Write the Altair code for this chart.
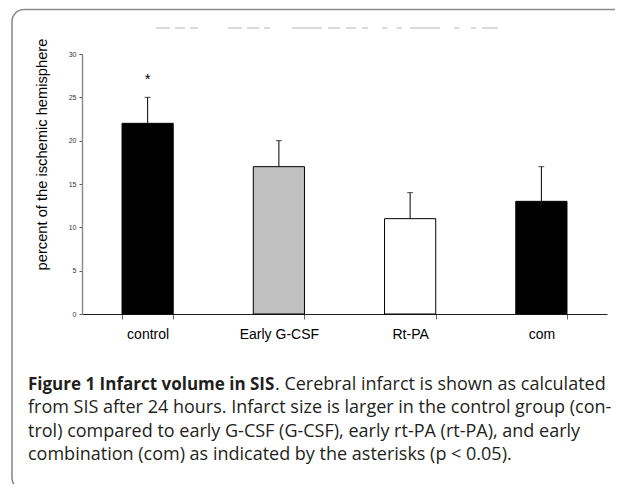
import altair as alt
import pandas as pd

# ---- data ----
groups = ["control", "Early G-CSF", "Rt-PA", "com"]
means = [22, 17, 11, 13]
upper_err = [25, 20, 14, 17]
y_ticks = [0, 5, 10, 15, 20, 25, 30]
star_groups = ["control"]
star_values = [26.5]

caption_bold = "Figure 1 Infarct volume in SIS"
caption_rest = ". Cerebral infarct is shown as calculated"
caption_lines = [
    "from SIS after 24 hours. Infarct size is larger in the control group (con-",
    "trol) compared to early G-CSF (G-CSF), early rt-PA (rt-PA), and early",
    "combination (com) as indicated by the asterisks (p < 0.05).",
]

# ---- styles ----
bar_colors = ["#000000", "#c0c0c0", "#ffffff", "#000000"]
AX_FONT = "Liberation Sans"
CAP_FONT = "Open Sans"
CAP_SIZE = 18

df = pd.DataFrame({"group": groups, "mean": means, "upper": upper_err})
star_df = pd.DataFrame({"group": star_groups, "value": star_values})

y_axis = alt.Axis(
    values=y_ticks, title="percent of the ischemic hemisphere",
    titleFont=AX_FONT, titleFontSize=14.7, titleFontWeight="normal", titleColor="black",
    titleAngle=270, titleAlign="center", titleBaseline="middle", titleX=-40, titleY=100,
    labelFont=AX_FONT, labelFontSize=7, labelColor="#333", labelPadding=3,
    tickSize=3, tickColor="#555", domainColor="#888", domainWidth=1.4, grid=False,
)
x_enc = alt.X(
    "group:N", sort=groups,
    scale=alt.Scale(domain=groups, paddingInner=0.61, paddingOuter=0.305),
    axis=alt.Axis(
        title=None, labelAngle=0, labelFont=AX_FONT, labelFontSize=14, labelColor="black",
        labelPadding=8, tickBand="extent", tickSize=5, tickColor="#666",
        domainColor="#222", domainWidth=1.2, grid=False,
    ),
)
y_scale = alt.Scale(domain=[0, 30], nice=False)

base = alt.Chart(df)
bars = base.mark_bar(stroke="black", strokeWidth=1).encode(
    x=x_enc,
    y=alt.Y("mean:Q", scale=y_scale, axis=y_axis),
    color=alt.Color("group:N", scale=alt.Scale(domain=groups, range=bar_colors), legend=None),
)
err = base.mark_rule(color="black", strokeWidth=1).encode(
    x=x_enc,
    y=alt.Y("mean:Q", scale=y_scale, axis=y_axis),
    y2="upper:Q",
)
caps = base.mark_tick(color="black", thickness=1, size=6).encode(
    x=x_enc,
    y=alt.Y("upper:Q", scale=y_scale, axis=y_axis),
)
star = alt.Chart(star_df).mark_text(
    text="*", font=AX_FONT, fontSize=15, baseline="alphabetic", color="black"
).encode(
    x=x_enc,
    y=alt.Y("value:Q", scale=y_scale, axis=y_axis),
)

one = pd.DataFrame({"k": [0]})
frame = alt.Chart(one).mark_rect(
    fill="white", fillOpacity=0, stroke="#8a8a8a", strokeWidth=1.6, cornerRadius=12
).encode(
    x=alt.value(-70), x2=alt.value(560), y=alt.value(-44.5), y2=alt.value(436)
)
dashes = alt.Chart(one).mark_rule(
    color="#d0d0d0", strokeWidth=1.5,
    strokeDash=[14, 5, 10, 5, 8, 30, 14, 5, 12, 5, 6, 22, 30, 6, 12, 6, 10, 6, 6],
).encode(x=alt.value(74), x2=alt.value(416), y=alt.value(-26))


def cap_text(txt, x, y, bold=False, size=CAP_SIZE):
    return alt.Chart(pd.DataFrame({"t": [txt]})).mark_text(
        font=CAP_FONT, fontSize=size, fontWeight="bold" if bold else "normal",
        align="left", baseline="middle", color="#231f20",
    ).encode(text="t:N", x=alt.value(x), y=alt.value(y))


caption = [
    cap_text(caption_bold, -54, 331, bold=True, size=17),
    cap_text(caption_rest, 193, 331),
    cap_text(caption_lines[0], -54, 354),
    cap_text(caption_lines[1], -54, 378),
    cap_text(caption_lines[2], -54, 401),
]

chart = alt.layer(frame, dashes, bars, err, caps, star, *caption).properties(
    width=525, height=260,
    autosize=alt.AutoSizeParams(type="none"),
    padding={"left": 74, "top": 46, "right": 8, "bottom": 170},
    background="white",
).configure_view(stroke=None)

chart.save("out.html", embed_options={"renderer": "svg", "actions": False})
